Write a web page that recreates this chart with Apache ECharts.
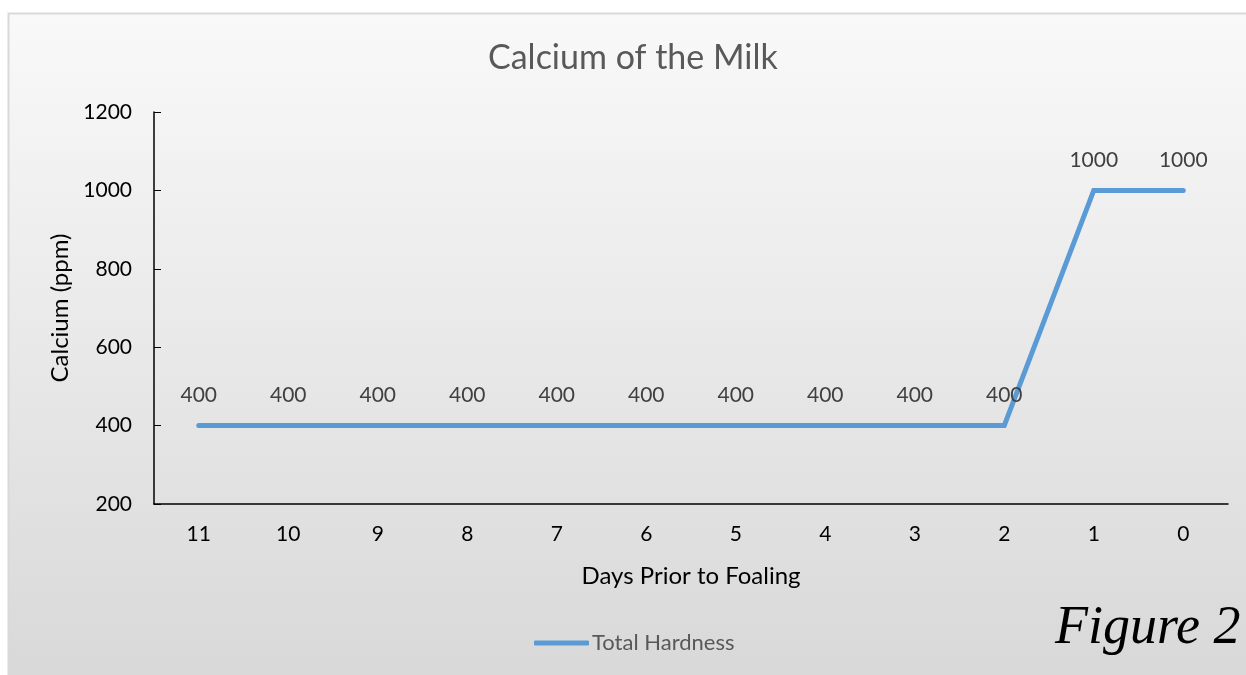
<!DOCTYPE html>
<html><head><meta charset="utf-8">
<script src="https://cdn.jsdelivr.net/npm/echarts@6/dist/echarts.min.js"></script>
<style>html,body{margin:0;padding:0;background:#fff}#c{width:1246px;height:675px}</style>
</head><body><div id="c"></div>
<script>
const categories = ['11','10','9','8','7','6','5','4','3','2','1','0'];
const totalHardness = [400,400,400,400,400,400,400,400,400,400,1000,1000];
const yTicks = {min:200, max:1200, interval:200};

const chart = echarts.init(document.getElementById('c'));
const font = 'Lato, "Open Sans", sans-serif';
chart.setOption({
  animation:false,
  backgroundColor:'#ffffff',
  graphic:[
    {type:'rect', z:-10, silent:true, shape:{x:8.5,y:13.5,width:1250,height:670},
     style:{fill:new echarts.graphic.LinearGradient(0,0,0,1,[{offset:0,color:'#f9f9f9'},{offset:1,color:'#d8d8d8'}]),
            stroke:'#d9d9d9', lineWidth:2}},
    {type:'text', x:1055, y:656, z:10,
     style:{text:'Figure 2', font:'italic 54px "Liberation Serif", serif', fill:'#000',
            textVerticalAlign:'bottom',
            shadowColor:'rgba(0,0,0,0.35)', shadowBlur:3, shadowOffsetX:2, shadowOffsetY:2}}
  ],
  title:{text:'Calcium of the Milk', left:483, top:36,
    textStyle:{fontFamily:font, fontSize:34, fontWeight:'normal', color:'#595959'}},
  legend:{bottom:16, left:529, itemWidth:55, itemHeight:5, itemGap:0,
    icon:'roundRect',
    textStyle:{fontFamily:font, fontSize:22, color:'#595959', padding:[0,0,0,-2]},
    data:[{name:'Total Hardness', itemStyle:{color:'#5b9bd5', opacity:1}}]},
  grid:{left:154, right:18, top:112, bottom:171},
  xAxis:{type:'category', data:categories, boundaryGap:true,
    name:'Days Prior to Foaling', nameLocation:'middle', nameGap:60,
    nameTextStyle:{fontFamily:font, fontSize:24, color:'#000'},
    axisLine:{lineStyle:{color:'#000', width:1.5}},
    axisTick:{inside:true, length:7, lineStyle:{color:'#000'}},
    axisLabel:{fontFamily:font, fontSize:21, color:'#000', margin:20},
    splitLine:{show:false}},
  yAxis:{type:'value', min:yTicks.min, max:yTicks.max, interval:yTicks.interval,
    name:'Calcium (ppm)', nameLocation:'middle', nameGap:82,
    nameTextStyle:{fontFamily:font, fontSize:24, color:'#000'},
    axisLine:{show:true, lineStyle:{color:'#000', width:1.5}},
    axisTick:{show:true, inside:true, length:7, lineStyle:{color:'#000'}},
    axisLabel:{fontFamily:font, fontSize:21, color:'#000', margin:22, formatter:v=>String(v)},
    splitLine:{show:false}},
  series:[{name:'Total Hardness', type:'line', data:totalHardness,
    symbol:'circle', symbolSize:1, showSymbol:true,
    itemStyle:{color:'rgba(91,155,213,0)', borderWidth:0},
    color:'#5b9bd5',
    lineStyle:{width:5, color:'#5b9bd5', cap:'round', join:'miter'},
    label:{show:true, position:'top', distance:19, fontFamily:font, fontSize:21, color:'#404040'},
    labelLayout:{hideOverlap:false}}]
});
</script></body></html>
